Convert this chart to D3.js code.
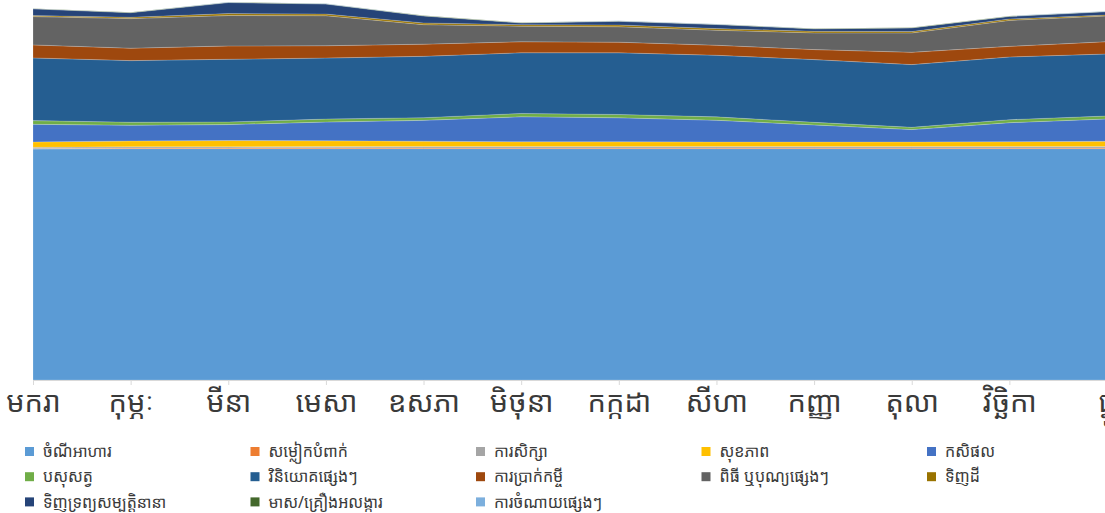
<!DOCTYPE html>
<html>
<head>
<meta charset="utf-8">
<script src="https://cdn.jsdelivr.net/npm/d3@7"></script>
<style>
  html, body { margin: 0; padding: 0; background: #fff; }
  svg { display: block; }
  text { font-family: "Noto Sans Khmer", "Khmer OS", "Khmer OS System", "Noto Sans", sans-serif; }
</style>
</head>
<body>
<svg id="chart" width="1105" height="513"></svg>
<script>
const months = ["មករា","កុម្ភៈ","មីនា","មេសា","ឧសភា","មិថុនា","កក្កដា","សីហា","កញ្ញា","តុលា","វិច្ឆិកា","ធ្នូ"];

const seriesNames = ["ចំណីអាហារ","សម្លៀកបំពាក់","ការសិក្សា","សុខភាព","កសិផល","បសុសត្វ","វិនិយោគផ្សេងៗ","ការប្រាក់កម្ចី","ពិធី ឬបុណ្យផ្សេងៗ","ទិញដី","ទិញទ្រព្យសម្បត្តិនានា","មាស/គ្រឿងអលង្ការ","ការចំណាយផ្សេងៗ"];

const seriesColors = ["#5B9BD5","#ED7D31","#A5A5A5","#FFC000","#4472C4","#70AD47","#255E91","#9E480E","#636363","#997300","#264478","#43682B","#7CAFDD"];

const food        = [61.6, 61.7, 61.7, 61.7, 61.7, 61.7, 61.7, 61.7, 61.7, 61.7, 61.7, 61.7];
const clothing    = [0.1, 0.15, 0.2, 0.25, 0.2, 0.2, 0.2, 0.2, 0.2, 0.2, 0.2, 0.2];
const education   = [0.35, 0.35, 0.3, 0.3, 0.35, 0.35, 0.35, 0.35, 0.35, 0.35, 0.35, 0.35];
const health      = [1.44, 1.55, 1.65, 1.55, 1.44, 1.28, 1.28, 1.25, 1.25, 1.25, 1.3, 1.41];
const agriculture = [4.69, 4.19, 4.27, 4.99, 5.55, 6.67, 6.4, 5.76, 4.53, 3.28, 5.07, 5.95];
const livestock   = [0.99, 0.8, 0.69, 0.8, 0.72, 0.88, 0.88, 0.91, 0.69, 0.61, 0.8, 0.8];
const investment  = [16.72, 16.43, 16.72, 16.27, 16.35, 16.19, 16.45, 16.43, 16.72, 16.72, 16.72, 16.53];
const interest    = [3.47, 3.31, 3.55, 3.28, 3.25, 2.93, 2.83, 2.67, 2.67, 3.28, 2.83, 3.28];
const ceremonies  = [7.55, 7.89, 8.11, 8.0, 5.2, 4.16, 4.11, 4.0, 4.45, 5.17, 6.93, 6.85];
const land        = [0.27, 0.35, 0.53, 0.45, 0.45, 0.4, 0.48, 0.45, 0.43, 0.35, 0.37, 0.27];
const assets      = [1.79, 1.23, 2.93, 2.67, 1.87, 0.45, 0.96, 1.07, 0.64, 0.99, 0.69, 0.88];
const jewelry     = [0.1, 0.1, 0.1, 0.1, 0.1, 0.1, 0.1, 0.1, 0.1, 0.1, 0.1, 0.1];
const otherExp    = [0.03, 0.03, 0.03, 0.03, 0.03, 0.03, 0.03, 0.03, 0.03, 0.03, 0.03, 0.03];

const seriesValues = [food, clothing, education, health, agriculture, livestock, investment, interest, ceremonies, land, assets, jewelry, otherExp];

// build table for d3.stack
const table = months.map((m, i) => {
  const row = { month: m };
  seriesNames.forEach((s, k) => { row[s] = seriesValues[k][i]; });
  return row;
});

const svg = d3.select("#chart");

const x = d3.scalePoint().domain(months).range([33, 1107]);
const y = d3.scaleLinear().domain([0, 100]).range([380, 5]);

const stack = d3.stack().keys(seriesNames);
const layers = stack(table);

const area = d3.area()
  .x(d => x(d.data.month))
  .y0(d => y(d[0]))
  .y1(d => y(d[1]));

svg.append("g")
  .selectAll("path")
  .data(layers)
  .join("path")
  .attr("d", area)
  .attr("fill", (d, i) => seriesColors[i])
  .attr("stroke", "#ffffff")
  .attr("stroke-opacity", 0.3)
  .attr("stroke-width", 0.6);

// x axis
const xAxis = d3.axisBottom(x).tickSize(5).tickPadding(6);
const gx = svg.append("g")
  .attr("transform", `translate(0,${y(0)})`)
  .call(xAxis);
gx.select(".domain").attr("stroke", "#d9d9d9");
gx.selectAll(".tick line").attr("stroke", "#d9d9d9");
gx.selectAll(".tick text")
  .attr("fill", "#3a3a3a")
  .attr("font-size", 29)
  .style("font-family", '"Noto Sans Khmer", "Khmer OS", "Noto Sans", sans-serif');

// legend
const legendCols = 5;
const legend = svg.append("g");
seriesNames.forEach((name, i) => {
  const col = i % legendCols;
  const row = Math.floor(i / legendCols);
  const gx0 = 25 + col * 225.5;
  const gy0 = 451.5 + row * 25.2;
  const g = legend.append("g").attr("transform", `translate(${gx0},${gy0})`);
  g.append("rect").attr("x", 0).attr("y", -4.5).attr("width", 9).attr("height", 9).attr("fill", seriesColors[i]);
  g.append("text").attr("x", 18).attr("y", 0).attr("dy", "0.35em")
    .attr("font-size", 16).attr("fill", "#3a3a3a").text(name);
});
</script>
</body>
</html>
